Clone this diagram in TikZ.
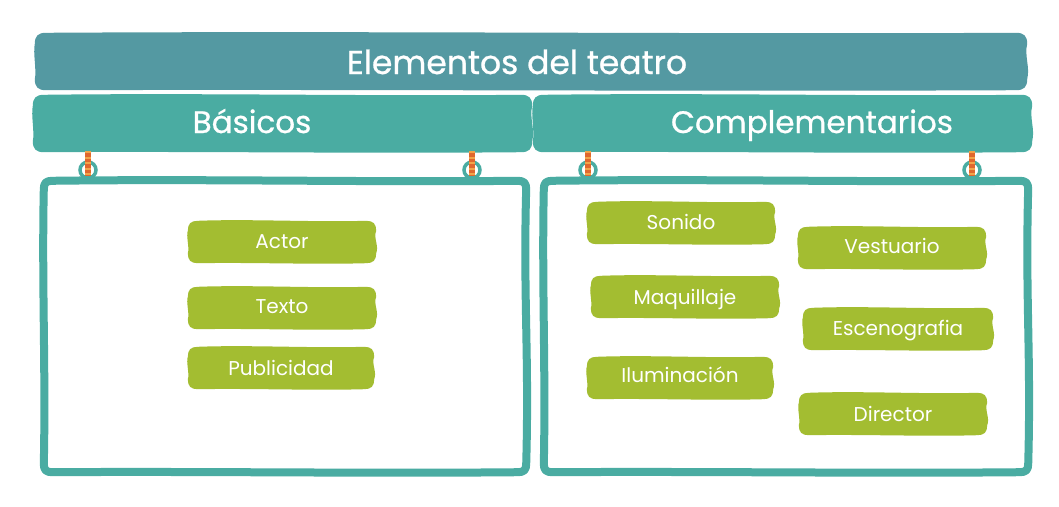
\documentclass[tikz,border=0pt]{standalone}
\usepackage{fontspec}
\setmainfont{Poppins}
\newfontfamily\headfont[FakeBold=0.8]{Poppins}
\usetikzlibrary{calc}
\definecolor{titlecol}{HTML}{5499A2}
\definecolor{bancol}{HTML}{4AACA2}
\definecolor{leaf}{HTML}{A3BD31}
\definecolor{ropecol}{HTML}{E0682E}
\definecolor{ropelite}{HTML}{F2A54A}
\pgfdeclarelayer{bg}
\pgfdeclarelayer{mid}
\pgfsetlayers{bg,mid,main}
\tikzset{
  box/.style={inner sep=0pt},
  headtxt/.style={text=white, font=\headfont\fontsize{33}{33}\selectfont, inner sep=0pt, anchor=base},
  subtxt/.style={text=white, font=\headfont\fontsize{31}{31}\selectfont, inner sep=0pt, anchor=base},
  item/.style={minimum width=188pt, minimum height=42pt, inner sep=0pt},
  itemtxt/.style={text=white, font=\fontsize{20}{20}\selectfont, inner sep=0pt, anchor=base},
  ring/.style={draw=bancol, line width=3.5pt},
  rope/.style={draw=ropecol, line width=6pt},
  ropestripe/.style={draw=ropelite, line width=6pt, dash pattern=on 2pt off 3.5pt},
}
% wobbly outline around a named node: #1 options, #2 node name, #3 corner size
\newcommand\wobshape[3][]{%
  \path[#1]
    ($(#2.north west)+(#3,0)$)
    .. controls ($(#2.north west)!0.33!(#2.north east)+(0,-2)$) and ($(#2.north west)!0.66!(#2.north east)+(0,1.5)$) .. ($(#2.north east)+(-#3,0)$)
    .. controls ($(#2.north east)+(-0.3*#3,0)$) and ($(#2.north east)+(0,0.3*#3)$) .. ($(#2.north east)+(0,#3)$)
    .. controls ($(#2.north east)!0.4!(#2.south east)+(-3,0)$) and ($(#2.north east)!0.6!(#2.south east)+(3,0)$) .. ($(#2.south east)+(0,-#3)$)
    .. controls ($(#2.south east)+(0,-0.3*#3)$) and ($(#2.south east)+(-0.3*#3,0)$) .. ($(#2.south east)+(-#3,0)$)
    .. controls ($(#2.south east)!0.33!(#2.south west)+(0,1.5)$) and ($(#2.south east)!0.66!(#2.south west)+(0,-1)$) .. ($(#2.south west)+(#3,0)$)
    .. controls ($(#2.south west)+(0.3*#3,0)$) and ($(#2.south west)+(0,-0.3*#3)$) .. ($(#2.south west)+(0,-#3)$)
    .. controls ($(#2.south west)!0.35!(#2.north west)+(2,0)$) and ($(#2.south west)!0.65!(#2.north west)+(-2,0)$) .. ($(#2.north west)+(0,#3)$)
    .. controls ($(#2.north west)+(0,0.3*#3)$) and ($(#2.north west)+(0.3*#3,0)$) .. cycle;}
\begin{document}
\begin{tikzpicture}[x=1pt,y=-1pt]
\useasboundingbox (0,0) rectangle (1059,506);
% title
\node[box, minimum width=992pt, minimum height=57pt] (title) at (531,61.5) {};
\node[headtxt] (titletxt) at (517,74) {Elementos del teatro};
% sub banners
\node[box, minimum width=499pt, minimum height=57pt] (bas) at (282.5,123.5) {};
\node[subtxt] (bastxt) at (252,133) {Básicos};
\node[box, minimum width=499pt, minimum height=57pt] (comp) at (782.5,123.5) {};
\node[subtxt] (comptxt) at (812,133) {Complementarios};
% panels
\node[box, minimum width=482pt, minimum height=291pt] (lp) at (285,326.5) {};
\node[box, minimum width=484pt, minimum height=291pt] (rp) at (786,326.5) {};
\begin{pgfonlayer}{bg}
  \foreach \hx in {88,472,588,972}{
    \draw[ring] (\hx,170) circle (8pt);
  }
  \wobshape[fill=titlecol]{title}{11}
  \wobshape[fill=bancol]{bas}{11}
  \wobshape[fill=bancol]{comp}{11}
  \wobshape[draw=bancol, line width=8pt, fill=white, line join=round]{lp}{8}
  \wobshape[draw=bancol, line width=8pt, fill=white, line join=round]{rp}{8}
\end{pgfonlayer}
% ropes
\foreach \hx/\nm in {88/ha,472/hb,588/hc,972/hd}{
  \coordinate (\nm top) at (\hx,151);
  \coordinate (\nm bot) at (\hx,176);
  \draw[rope] (\nm top) -- (\nm bot);
  \draw[ropestripe] (\nm top) -- (\nm bot);
}
% items left
\node[item] (actor) at (282,242) {};
\node[item] (texto) at (282,308) {};
\node[item, minimum width=186pt] (publ) at (281,368) {};
% items right
\node[item] (sonido) at (681,223) {};
\node[item] (vest) at (892,248) {};
\node[item] (maq) at (685,297) {};
\node[item, minimum width=190pt] (esc) at (898,329) {};
\node[item, minimum width=186pt] (ilum) at (680,378) {};
\node[item] (dir) at (893,414) {};
\begin{pgfonlayer}{mid}
  \foreach \n in {actor,texto,publ,sonido,vest,maq,esc,ilum,dir}{
    \wobshape[fill=leaf]{\n}{10}
  }
\end{pgfonlayer}
\node[itemtxt] (actortxt) at (282,248) {Actor};
\node[itemtxt] (textotxt) at (282,313) {Texto};
\node[itemtxt] (publtxt) at (281,375) {Publicidad};
\node[itemtxt] (sonidotxt) at (681,229) {Sonido};
\node[itemtxt] (vesttxt) at (892,253) {Vestuario};
\node[itemtxt] (maqtxt) at (685,304) {Maquillaje};
\node[itemtxt] (esctxt) at (898,335) {Escenografia};
\node[itemtxt] (ilumtxt) at (680,382) {Iluminación};
\node[itemtxt] (dirtxt) at (893,421) {Director};
\end{tikzpicture}
\end{document}
